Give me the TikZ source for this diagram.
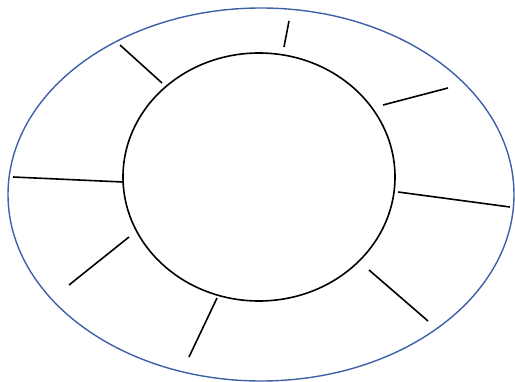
\documentclass[tikz,border=0pt]{standalone}
\definecolor{outerblue}{RGB}{62,96,168}
\begin{document}
\begin{tikzpicture}[x=1pt,y=-1pt,
  outer/.style={draw=outerblue,line width=1.4pt},
  inner/.style={draw=black,line width=1.6pt},
  spoke/.style={draw=black,line width=1.6pt}]
\useasboundingbox (0,0) rectangle (515,382);
\draw[outer] (261,194.5) ellipse [x radius=253, y radius=186.5];
\draw[inner] (259,177) ellipse [x radius=136, y radius=124];
\coordinate (a1) at (120,45);  \coordinate (b1) at (162,83);
\coordinate (a2) at (13,177);  \coordinate (b2) at (123,182);
\coordinate (a3) at (289,21);  \coordinate (b3) at (284,47);
\coordinate (a4) at (383,105); \coordinate (b4) at (448,88);
\coordinate (a5) at (398,192); \coordinate (b5) at (510,207);
\coordinate (a6) at (369,270); \coordinate (b6) at (428,321);
\coordinate (a7) at (129,237); \coordinate (b7) at (69,285);
\coordinate (a8) at (217,298); \coordinate (b8) at (189,357);
\foreach \i in {1,...,8} \draw[spoke] (a\i) -- (b\i);
\end{tikzpicture}
\end{document}
